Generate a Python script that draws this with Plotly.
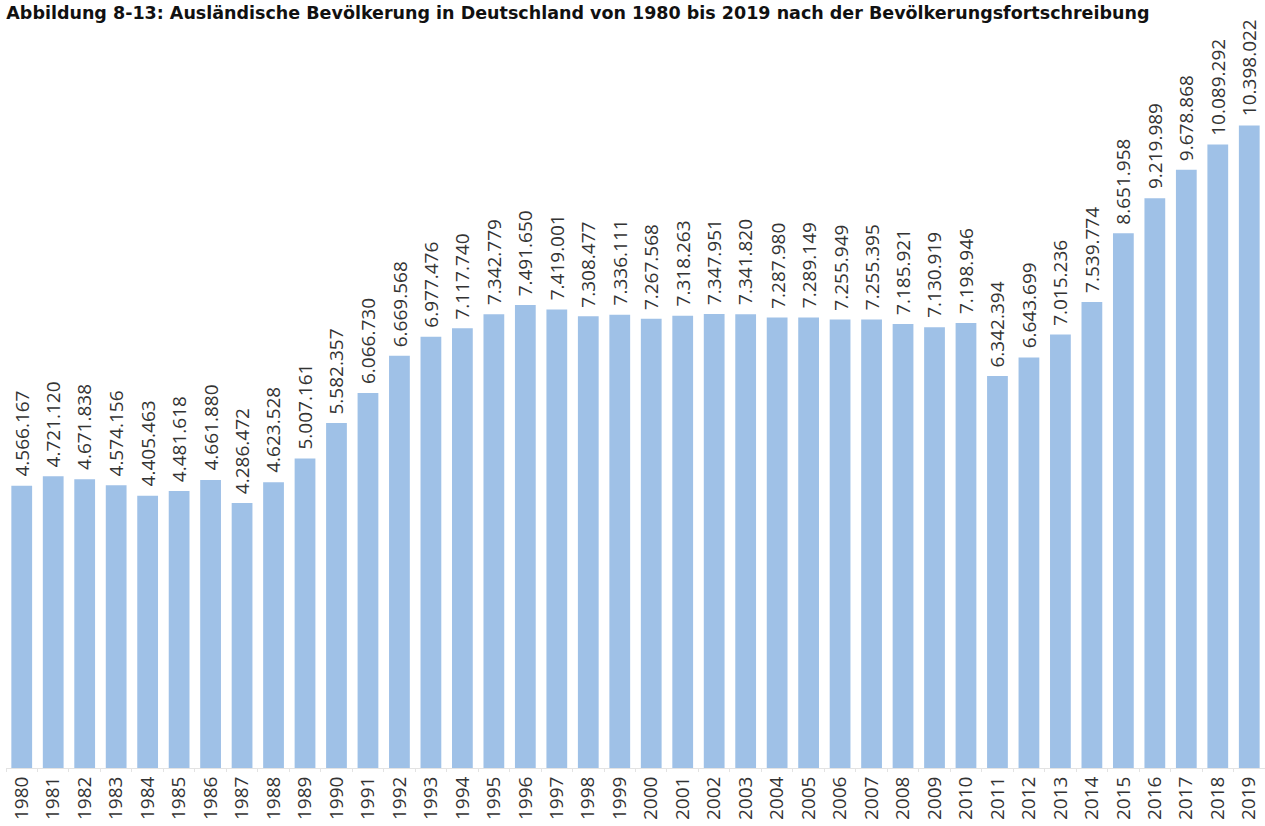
import plotly.graph_objects as go

years = [str(y) for y in range(1980, 2020)]
values = [4566167, 4721120, 4671838, 4574156, 4405463, 4481618, 4661880, 4286472,
          4623528, 5007161, 5582357, 6066730, 6669568, 6977476, 7117740, 7342779,
          7491650, 7419001, 7308477, 7336111, 7267568, 7318263, 7347951, 7341820,
          7287980, 7289149, 7255949, 7255395, 7185921, 7130919, 7198946, 6342394,
          6643699, 7015236, 7539774, 8651958, 9219989, 9678868, 10089292, 10398022]
title = "Abbildung 8-13: Ausländische Bevölkerung in Deutschland von 1980 bis 2019 nach der Bevölkerungsfortschreibung"

labels = [f"{v:,}".replace(",", ".") for v in values]

fig = go.Figure(go.Bar(
    x=years, y=values,
    marker=dict(color="#9fc1e7", line=dict(width=0)),
    width=0.66, hoverinfo="x+y",
))

for i, (v, lab) in enumerate(zip(values, labels)):
    fig.add_annotation(x=i, y=v, text=lab, textangle=-90, showarrow=False,
                       xanchor="center", yanchor="bottom", yshift=7,
                       font=dict(family="Open Sans", size=19, color="#333333"))

fig.update_layout(
    width=1265, height=826,
    margin=dict(l=6, r=0, t=40, b=58, autoexpand=False),
    paper_bgcolor="white", plot_bgcolor="white",
    showlegend=False,
    title=dict(text=title, x=0.005, xanchor="left", y=0.992, yanchor="top",
               font=dict(family="DejaVu Sans", size=17.5, color="#111111", weight="bold")),
    xaxis=dict(type="category", tickangle=-90, showline=True, linecolor="#e3e3e3",
               range=[-0.5, len(years) - 0.5],
               ticks="outside", ticklen=3, tickcolor="#e3e3e3", tickson="boundaries",
               tickfont=dict(family="Open Sans", size=19, color="#333333"),
               showgrid=False, automargin=False),
    yaxis=dict(range=[0, 11.78e6], visible=False, showgrid=False),
)

fig.write_html("out.html", config={"displayModeBar": False},
               post_script="document.body.style.margin='0';document.body.style.overflow='hidden';")
